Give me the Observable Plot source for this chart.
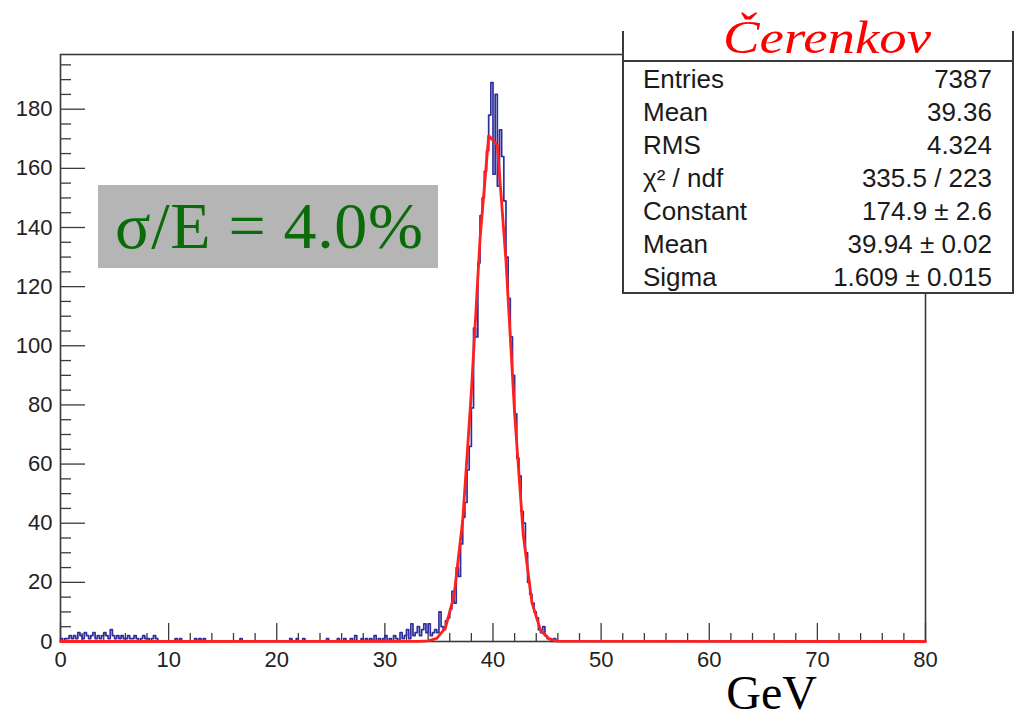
<!DOCTYPE html>
<html>
<head>
<meta charset="utf-8">
<script src="https://cdn.jsdelivr.net/npm/d3@7"></script>
<script src="https://cdn.jsdelivr.net/npm/@observablehq/plot@0.6"></script>
<style>
  html, body { margin: 0; padding: 0; background: #fff; }
  #chart { width: 1016px; height: 720px; overflow: hidden; }
</style>
</head>
<body>
<div id="chart"></div>
<script>
// ---------- data ----------
const binWidth = 0.2; // GeV
// low edges and counts of the non-empty histogram bins
const binLow = [
  0.0, 0.4, 0.6, 0.8, 1.0, 1.2, 1.4, 1.6, 1.8, 2.0, 2.2, 2.4, 2.6, 2.8, 3.0, 3.2, 3.4, 3.6, 3.8,
  4.0, 4.2, 4.4, 4.6, 4.8, 5.0, 5.2, 5.4, 5.6, 5.8, 6.0, 6.2, 6.4, 6.6, 6.8, 7.0, 7.4, 7.6, 7.8,
  8.0, 8.4, 8.6, 8.8,
  10.6, 11.0, 12.4, 12.8, 13.2, 16.6, 21.2, 21.8, 22.4, 24.6,
  25.6, 26.2, 26.8, 27.2, 27.8, 28.2, 28.6, 29.0, 29.4, 29.8, 30.0, 30.4, 30.8, 31.0, 31.4, 31.6,
  31.8, 32.0, 32.2, 32.4, 32.6, 32.8, 33.0, 33.2, 33.4, 33.6, 33.8,
  34.0, 34.2, 34.4, 34.6, 34.8, 35.0, 35.2, 35.4, 35.6, 35.8, 36.0, 36.2, 36.4, 36.6, 36.8,
  37.0, 37.2, 37.4, 37.6, 37.8, 38.0, 38.2, 38.4, 38.6, 38.8, 39.0, 39.2, 39.4, 39.6, 39.8,
  40.0, 40.2, 40.4, 40.6, 40.8, 41.0, 41.2, 41.4, 41.6, 41.8, 42.0, 42.2, 42.4, 42.6, 42.8,
  43.0, 43.2, 43.4, 43.6, 43.8, 44.0, 44.2, 44.4, 44.6, 44.8, 45.0, 45.2, 45.6
];
const binCount = [
  1, 1, 1, 2, 1, 2, 1, 3, 2, 1, 3, 2, 1, 2, 3, 1, 2, 1, 2,
  3, 2, 1, 4, 2, 1, 2, 1, 2, 1, 1, 2, 1, 1, 2, 1, 1, 2, 1,
  1, 1, 2, 1,
  1, 1, 1, 1, 1, 1, 1, 1, 1, 1,
  1, 1, 1, 2, 1, 1, 1, 2, 1, 1, 2, 1, 2, 1, 3, 1,
  2, 4, 1, 6, 2, 3, 5, 2, 4, 6, 3,
  6, 2, 3, 4, 3, 10, 5, 4, 7, 8, 11, 17, 13, 25, 22,
  33, 42, 47, 58, 66, 79, 106, 103, 128, 144, 150, 159, 166, 178, 189,
  158, 185, 154, 173, 164, 149, 130, 116, 103, 90, 77, 62, 56, 44, 40,
  30, 20, 16, 13, 10, 8, 4, 3, 5, 2, 1, 1, 1
];
// Gaussian fit polyline (Constant 174.9, Mean 39.94, Sigma 1.609)
const fitX = [0, 33.2, 34.0, 34.8, 35.6, 36.4, 37.2, 38.0, 38.8, 39.6, 40.4, 41.2, 42.0, 42.8, 43.6, 44.4, 45.2, 46.0, 80];
const fitY = [0, 0.03, 0.19, 1.06, 4.60, 15.55, 41.0, 84.5, 136.1, 171.0, 167.9, 128.7, 77.1, 36.0, 13.16, 3.75, 0.84, 0.15, 0];

const xMajor = [0, 10, 20, 30, 40, 50, 60, 70, 80];
const xMinor = [2, 4, 6, 8, 12, 14, 16, 18, 22, 24, 26, 28, 32, 34, 36, 38, 42, 44, 46, 48,
                52, 54, 56, 58, 62, 64, 66, 68, 72, 74, 76, 78];
const yMajor = [0, 20, 40, 60, 80, 100, 120, 140, 160, 180];
const yMinor = [5, 10, 15, 25, 30, 35, 45, 50, 55, 65, 70, 75, 85, 90, 95, 105, 110, 115,
                125, 130, 135, 145, 150, 155, 165, 170, 175, 185, 190, 195];

const statTitle = "Čerenkov";
const statLabels = ["Entries", "Mean", "RMS", "χ² / ndf", "Constant", "Mean", "Sigma"];
const statValues = ["7387", "39.36", "4.324", "335.5 / 223", "174.9 ± 2.6", "39.94 ± 0.02", "1.609 ± 0.015"];
const resolutionText = "σ/E = 4.0%";
const xTitle = "GeV";

// ---------- build histogram outline ----------
const nBins = 400;
const counts = new Array(nBins).fill(0);
binLow.forEach((lo, i) => { counts[Math.round(lo / binWidth)] = binCount[i]; });
const histPts = counts.map((c, i) => ({x: i * binWidth, y: c}));
histPts.push({x: 80, y: counts[nBins - 1]});
const fitPts = fitX.map((xv, i) => ({x: xv, y: fitY[i]}));

const axisColor = "#3a3a3a";
const labelFont = "'Liberation Sans', Arial, Helvetica, sans-serif";
const serifFont = "'Liberation Serif', 'Times New Roman', Times, serif";

const svg = Plot.plot({
  width: 1016,
  height: 720,
  marginLeft: 60,
  marginRight: 91,
  marginTop: 54,
  marginBottom: 79,
  x: {domain: [0, 80]},
  y: {domain: [0, 198.5]},
  style: {fontFamily: labelFont, background: "white", color: "#222"},
  marks: [
    Plot.frame({stroke: axisColor, strokeWidth: 1.6}),
    Plot.axisX(xMinor, {anchor: "bottom", tickSize: -8, tickFormat: () => "", stroke: axisColor, strokeWidth: 1.3, label: null}),
    Plot.axisX(xMajor, {anchor: "bottom", tickSize: -18, tickFormat: () => "", stroke: axisColor, strokeWidth: 1.3, label: null}),
    Plot.axisX(xMajor, {anchor: "bottom", tickSize: 0, tickPadding: 10, fontSize: 22, fill: "#222", label: null}),
    Plot.axisY(yMinor, {anchor: "left", tickSize: -11, tickFormat: () => "", stroke: axisColor, strokeWidth: 1.3, label: null}),
    Plot.axisY(yMajor, {anchor: "left", tickSize: -25, tickFormat: () => "", stroke: axisColor, strokeWidth: 1.3, label: null}),
    Plot.axisY(yMajor, {anchor: "left", tickSize: 0, tickPadding: 8, fontSize: 22, fill: "#222", label: null}),
    Plot.line(histPts, {x: "x", y: "y", curve: "step-after", stroke: "#2e2e9c", strokeWidth: 1.7}),
    Plot.line(fitPts, {x: "x", y: "y", stroke: "#ff2020", strokeWidth: 2.8})
  ]
});

// ---------- annotations ----------
const s = d3.select(svg);
// resolution box
s.append("rect").attr("x", 98).attr("y", 185).attr("width", 340).attr("height", 83).attr("fill", "#b5b5b5");
s.append("text").attr("x", 115).attr("y", 248).attr("text-anchor", "start")
  .attr("font-family", serifFont)
  .attr("font-size", 66).attr("fill", "#0b6b0b")
  .attr("textLength", 308).attr("lengthAdjust", "spacing").text(resolutionText);

// stats box
const box = s.append("g");
box.append("rect").attr("x", 623).attr("y", 0).attr("width", 390).attr("height", 293).attr("fill", "white");
box.append("path").attr("d", "M623,31V293H1013V31M623,61H1013")
  .attr("fill", "none").attr("stroke", axisColor).attr("stroke-width", 2);
box.append("text").attr("x", 827).attr("y", 53).attr("text-anchor", "middle")
  .attr("font-family", serifFont)
  .attr("font-style", "italic").attr("font-size", 46).attr("fill", "#ff0000")
  .attr("textLength", 208).attr("lengthAdjust", "spacingAndGlyphs").text(statTitle);
statLabels.forEach((lab, i) => {
  box.append("text").attr("x", 643).attr("y", 88 + 33 * i).attr("text-anchor", "start")
    .attr("font-family", labelFont).attr("font-size", 26).attr("fill", "#1a1a1a").text(lab);
  box.append("text").attr("x", 992).attr("y", 88 + 33 * i).attr("text-anchor", "end")
    .attr("font-family", labelFont).attr("font-size", 26).attr("fill", "#1a1a1a").text(statValues[i]);
});

// x axis title
s.append("text").attr("x", 817).attr("y", 709).attr("text-anchor", "end")
  .attr("font-family", serifFont)
  .attr("font-size", 48).attr("fill", "#000").text(xTitle);

document.getElementById("chart").appendChild(svg);
</script>
</body>
</html>
